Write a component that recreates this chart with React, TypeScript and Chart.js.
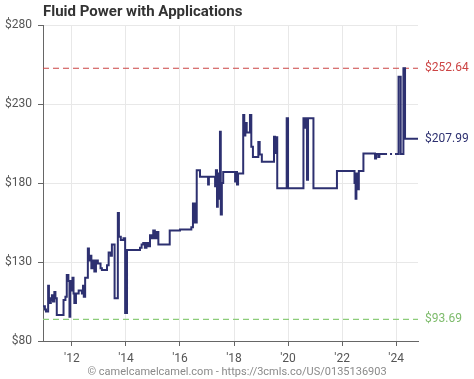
import React, { useEffect, useRef } from 'react';
import { Chart, registerables } from 'chart.js';

Chart.register(...registerables);

const titleText = 'Fluid Power with Applications';
const creditText = '© camelcamelcamel.com - https://3cmls.co/US/0135136903';

// price change points: decimal year, price in dollars
const dates = [
  2010.93, 2011.00, 2011.04, 2011.12, 2011.15, 2011.19, 2011.22, 2011.26, 2011.30, 2011.35,
  2011.39, 2011.44, 2011.69, 2011.76, 2011.81, 2011.87, 2011.91, 2011.94, 2011.98, 2012.02,
  2012.06, 2012.09, 2012.15, 2012.25, 2012.37, 2012.41, 2012.44, 2012.49, 2012.59, 2012.63,
  2012.69, 2012.72, 2012.78, 2012.83, 2012.89, 2012.96, 2013.06, 2013.11, 2013.30, 2013.36,
  2013.44, 2013.48, 2013.58, 2013.70, 2013.74, 2013.81, 2013.91, 2013.97, 2014.04, 2014.52,
  2014.58, 2014.64, 2014.70, 2014.76, 2014.83, 2014.89, 2014.95, 2015.01, 2015.07, 2015.13,
  2015.20, 2015.62, 2016.00, 2016.42, 2016.48, 2016.55, 2016.62, 2016.74, 2017.04, 2017.07,
  2017.30, 2017.33, 2017.37, 2017.40, 2017.44, 2017.48, 2017.51, 2017.55, 2017.60, 2018.04,
  2018.08, 2018.11, 2018.15, 2018.34, 2018.38, 2018.42, 2018.47, 2018.59, 2018.64, 2018.70,
  2018.90, 2018.95, 2019.03, 2019.48, 2019.52, 2019.55, 2019.60, 2019.95, 2020.00, 2020.57,
  2020.60, 2020.63, 2020.70, 2020.74, 2020.94, 2021.81, 2022.46, 2022.50, 2022.53, 2022.57,
  2022.62, 2022.79, 2023.22, 2023.26, 2023.34, 2023.38, 2023.59, 2024.03, 2024.09, 2024.17,
  2024.27, 2024.33, 2024.81,
];
const prices = [
  102, 100, 98.6, 115, 107, 104, 106, 109, 105, 111,
  107, 96.5, 106, 108, 121.8, 118, 95.4, 118, 112, 120,
  110, 104, 110, 112, 110, 115, 108, 120, 138.6, 131,
  134, 126, 131, 124, 131, 129, 126, 125, 128, 136,
  134, 141, 107, 161, 146, 144, 145, 97.7, 137.6, 139,
  141, 142, 139, 142, 140, 147, 145, 150, 145, 149,
  141, 150, 150.5, 152, 167, 155, 188, 184, 179, 184,
  178, 188, 165, 186, 170, 212.5, 160, 180, 187, 181,
  187, 179, 186, 223, 210, 218, 212, 223, 203, 196.5,
  206, 198, 193.5, 209.3, 199, 209, 176.6, 221, 176.6, 221,
  215, 221, 182, 221, 176.6, 187.6, 180, 170, 186, 176,
  187.6, 198.6, 195.5, 198.4, 196.5, 198.4, 198.4, 198.4, 247.3, 198.4,
  252.64, 207.99, 207.99,
];

const highestPrice = 252.64;
const lowestPrice = 93.69;
const currentPrice = 207.99;

const xRange = [2010.93, 2024.81];
const dottedRange = [2023.58, 2024.04];
const xTickYears = [2012, 2014, 2016, 2018, 2020, 2022, 2024];
const yTickValues = [80, 130, 180, 230, 280];

const NAVY = '#2d3070';
const RED = '#cc4444';
const GREEN = '#7dbb6b';

const priceLabels = {
  id: 'priceLabels',
  afterDatasetsDraw(chart: any) {
    const { ctx, chartArea, scales } = chart;
    const y = scales.y;
    ctx.save();
    ctx.font = '12px Roboto';
    ctx.textBaseline = 'middle';
    ctx.textAlign = 'left';
    const items: [number, string][] = [
      [highestPrice, RED],
      [currentPrice, NAVY],
      [lowestPrice, GREEN],
    ];
    items.forEach(([v, c]) => {
      ctx.fillStyle = c;
      ctx.fillText('$' + v.toFixed(2), chartArea.right + 7, y.getPixelForValue(v));
    });
    ctx.fillStyle = '#8a8a8a';
    ctx.font = '11px Roboto';
    ctx.textAlign = 'center';
    ctx.fillText(creditText, chart.width / 2, chart.height - 7);
    ctx.restore();
  },
};

export default function App() {
  const ref = useRef<HTMLCanvasElement | null>(null);
  useEffect(() => {
    if (!ref.current) return;
    Chart.defaults.font.family = 'Roboto';
    const chart = new Chart(ref.current, {
      type: 'line',
      data: {
        datasets: [
          {
            data: dates.map((d, i) => ({ x: d, y: prices[i] })),
            stepped: true,
            borderColor: NAVY,
            borderWidth: 2,
            pointRadius: 0,
            order: 0,
            segment: {
              borderDash: (c: any) =>
                c.p0.parsed.x >= dottedRange[0] && c.p1.parsed.x <= dottedRange[1] ? [2, 3] : undefined,
            },
          },
          {
            data: [
              { x: xRange[0], y: highestPrice },
              { x: xRange[1], y: highestPrice },
            ],
            borderColor: RED,
            borderWidth: 1.2,
            borderDash: [6, 4],
            pointRadius: 0,
            order: 1,
          },
          {
            data: [
              { x: xRange[0], y: lowestPrice },
              { x: xRange[1], y: lowestPrice },
            ],
            borderColor: '#8ccc7a',
            borderWidth: 1.2,
            borderDash: [6, 4],
            pointRadius: 0,
            order: 1,
          },
        ],
      },
      options: {
        animation: false,
        responsive: false,
        layout: { padding: { left: 0, right: 56, top: 0, bottom: 0 } },
        plugins: {
          legend: { display: false },
          tooltip: { enabled: false },
          title: {
            display: true,
            text: titleText,
            align: 'start',
            fullSize: false,
            color: '#333',
            font: { size: 15, weight: 'bold' },
            padding: { top: 3, bottom: 4 },
          },
        },
        scales: {
          x: {
            type: 'linear',
            min: xRange[0],
            max: xRange[1],
            afterBuildTicks: (s: any) => {
              s.ticks = xTickYears.map((v) => ({ value: v }));
            },
            afterFit: (s: any) => {
              s.height = 38;
            },
            ticks: {
              color: '#555',
              font: { size: 12 },
              padding: 6,
              maxRotation: 0,
              callback: (v: any) => "'" + String(v).slice(2),
            },
            grid: { color: '#e8e8e8', tickColor: '#666', tickLength: 5 },
            border: { color: '#666' },
          },
          y: {
            min: 80,
            max: 280,
            afterBuildTicks: (s: any) => {
              s.ticks = yTickValues.map((v) => ({ value: v }));
            },
            afterFit: (s: any) => {
              s.width = 43;
            },
            ticks: {
              color: '#555',
              font: { size: 12 },
              padding: 6,
              callback: (v: any) => '$' + v,
            },
            grid: { color: '#e8e8e8', tickColor: '#666', tickLength: 5 },
            border: { color: '#666' },
          },
        },
      },
      plugins: [priceLabels],
    });
    return () => chart.destroy();
  }, []);
  return (
    <div style={{ position: 'fixed', left: 0, top: 0, width: 474, height: 379, background: '#fff' }}>
      <canvas ref={ref} width={474} height={379} style={{ display: 'block' }} />
    </div>
  );
}
